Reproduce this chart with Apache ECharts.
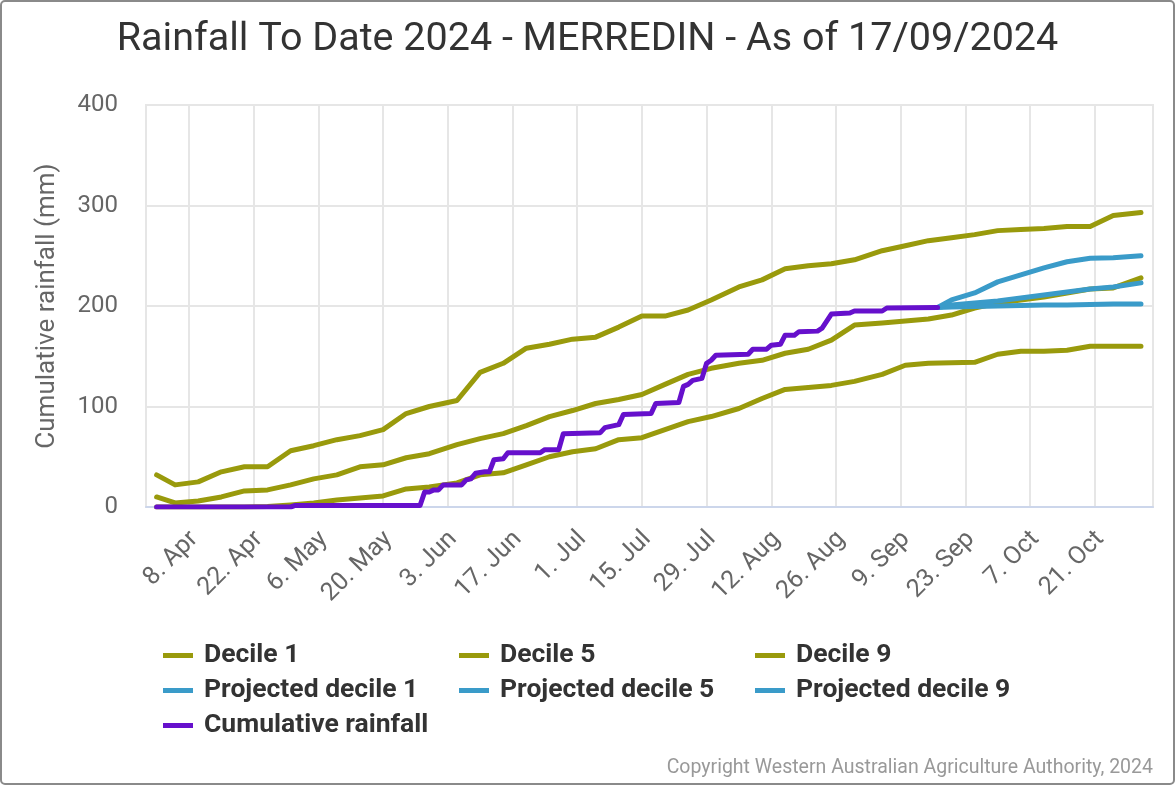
<!DOCTYPE html>
<html>
<head>
<meta charset="utf-8">
<script src="https://cdn.jsdelivr.net/npm/echarts@6/dist/echarts.min.js"></script>
<style>
html,body{margin:0;padding:0;background:#fff;}
#chart{width:1175px;height:785px;}
</style>
</head>
<body>
<div id="chart"></div>
<script>
// ---------- DATA ----------
const decileDates = [
  '2024-04-01','2024-04-05','2024-04-10','2024-04-15','2024-04-20','2024-04-25','2024-04-30',
  '2024-05-05','2024-05-10','2024-05-15','2024-05-20','2024-05-25','2024-05-30',
  '2024-06-05','2024-06-10','2024-06-15','2024-06-20','2024-06-25','2024-06-30',
  '2024-07-05','2024-07-10','2024-07-15','2024-07-20','2024-07-25','2024-07-30',
  '2024-08-05','2024-08-10','2024-08-15','2024-08-20','2024-08-25','2024-08-30',
  '2024-09-05','2024-09-10','2024-09-15','2024-09-20','2024-09-25','2024-09-30',
  '2024-10-05','2024-10-10','2024-10-15','2024-10-20','2024-10-25','2024-10-31'
];
const decile1 = [
  0, 0, 0, 0, 0, 0.5, 2,
  4, 7, 9, 11, 18, 20,
  24, 32, 34, 42, 50, 55,
  58, 67, 69, 77, 85, 90,
  98, 108, 117, 119, 121, 125,
  132, 141, 143, 143.5, 144, 152,
  155, 155, 156, 160, 160, 160
];
const decile5 = [
  10, 4, 6, 10, 16, 17, 22,
  28, 32, 40, 42, 49, 53,
  62, 68, 73, 81, 90, 96,
  103, 107, 112, 122, 132, 138,
  143, 146, 153, 157, 166, 181,
  183, 185, 187, 191, 198, 203,
  206, 209, 213, 217, 218, 228
];
const decile9 = [
  32, 22, 25, 35, 40, 40, 56,
  61, 67, 71, 77, 93, 100,
  106, 134, 143, 158, 162, 167,
  169, 179, 190, 190, 196, 206,
  219, 226, 237, 240, 242, 246,
  255, 260, 265, 268, 271, 275,
  276, 277, 279, 279, 290, 293
];

const projDates = ['2024-09-17','2024-09-20','2024-09-25','2024-09-30','2024-10-05',
  '2024-10-10','2024-10-15','2024-10-20','2024-10-25','2024-10-31'];
const projDecile1 = [198.5, 199, 199.5, 200, 200.5, 201, 201, 201.5, 202, 202];
const projDecile5 = [198.5, 201, 203, 205, 208, 211, 214, 217, 219, 223];
const projDecile9 = [198.5, 206, 213, 224, 231, 238, 244, 247.5, 248, 250];

const rainDates = [
  '2024-04-01','2024-04-30','2024-05-01','2024-05-28','2024-05-29','2024-05-30','2024-05-31',
  '2024-06-01','2024-06-02','2024-06-06','2024-06-07','2024-06-08','2024-06-09','2024-06-11',
  '2024-06-12','2024-06-13','2024-06-15','2024-06-16','2024-06-23','2024-06-24','2024-06-27',
  '2024-06-28','2024-07-06','2024-07-07','2024-07-08','2024-07-09','2024-07-10','2024-07-11',
  '2024-07-17','2024-07-18','2024-07-23','2024-07-24','2024-07-25','2024-07-26','2024-07-28',
  '2024-07-29','2024-07-30','2024-07-31','2024-08-07','2024-08-08','2024-08-11','2024-08-12',
  '2024-08-14','2024-08-15','2024-08-17','2024-08-18','2024-08-22','2024-08-23','2024-08-25',
  '2024-08-29','2024-08-30','2024-09-05','2024-09-06','2024-09-17'
];
const rainValues = [
  0, 0, 1.5, 1.5, 15, 15, 17,
  17, 22, 22, 27, 28, 33.5, 35,
  35, 47, 48, 54, 54, 57, 57,
  73, 74, 79, 80, 81, 82, 92,
  93, 103, 104, 120, 122, 126, 128,
  143, 146, 151, 152, 157, 157, 161,
  162, 171, 171, 174.5, 175, 178, 192,
  193, 195, 195, 198, 198.5
];

const tickDates = ['2024-04-08','2024-04-22','2024-05-06','2024-05-20','2024-06-03','2024-06-17',
  '2024-07-01','2024-07-15','2024-07-29','2024-08-12','2024-08-26','2024-09-09','2024-09-23',
  '2024-10-07','2024-10-21'];
const tickLabels = ['8. Apr','22. Apr','6. May','20. May','3. Jun','17. Jun','1. Jul','15. Jul',
  '29. Jul','12. Aug','26. Aug','9. Sep','23. Sep','7. Oct','21. Oct'];

// ---------- helpers ----------
const ORIGIN = Date.UTC(2024, 3, 1);
function dayOf(s) {
  const p = s.split('-').map(Number);
  return (Date.UTC(p[0], p[1] - 1, p[2]) - ORIGIN) / 86400000;
}
function pairs(dates, vals) { return dates.map((d, i) => [dayOf(d), vals[i]]); }
const tickDays = tickDates.map(dayOf);
const labelByDay = {};
tickDays.forEach((d, i) => { labelByDay[d] = tickLabels[i]; });

const OLIVE = '#999a0c', BLUE = '#3a9bc9', PURPLE = '#6610cc';
const FONT = 'Roboto';

function lineSeries(name, data, color) {
  return {
    name: name, type: 'line', data: data, showSymbol: false, symbol: 'none',
    lineStyle: { color: color, width: 5, join: 'round', cap: 'round' },
    itemStyle: { color: color },
    emphasis: { disabled: true }, animation: false
  };
}

const chart = echarts.init(document.getElementById('chart'), null, { renderer: 'canvas' });

const legendCommon = {
  orient: 'vertical', top: 642, padding: 0, itemWidth: 30, itemHeight: 5, icon: 'rect', itemGap: 8,
  selectedMode: false,
  textStyle: { fontFamily: FONT, fontSize: 26.5, fontWeight: 'bold', color: '#333', lineHeight: 26, padding: [0, 0, 0, 6] }
};

chart.setOption({
  backgroundColor: '#fff',
  animation: false,
  title: {
    text: 'Rainfall To Date 2024 - MERREDIN - As of 17/09/2024',
    left: 'center', top: 15,
    textStyle: { fontFamily: FONT, fontSize: 39.5, fontWeight: 'normal', color: '#333' }
  },
  legend: [
    Object.assign({ left: 163, data: ['Decile 1', 'Projected decile 1', 'Cumulative rainfall'] }, legendCommon),
    Object.assign({ left: 459, data: ['Decile 5', 'Projected decile 5'] }, legendCommon),
    Object.assign({ left: 755, data: ['Decile 9', 'Projected decile 9'] }, legendCommon)
  ],
  grid: { left: 146, right: 22, top: 105, bottom: 278, outerBoundsMode: 'none', containLabel: false,
    show: true, borderColor: '#e6e6e6', borderWidth: 2 },
  xAxis: {
    type: 'value', min: -2.3, max: 215.6,
    axisLine: { show: true, lineStyle: { color: '#ccd6eb', width: 2 } },
    axisTick: { show: false, customValues: tickDays },
    axisLabel: {
      customValues: tickDays, rotate: 45, margin: 16, align: 'right', verticalAlign: 'top',
      padding: [0, 5, 0, 0],
      fontFamily: FONT, fontSize: 25, color: '#666',
      formatter: v => labelByDay[v] || ''
    },
    splitLine: { show: true, lineStyle: { color: '#e6e6e6', width: 2 } }
  },
  yAxis: {
    type: 'value', min: 0, max: 400, interval: 100,
    name: 'Cumulative rainfall (mm)', nameLocation: 'middle', nameGap: 86, nameRotate: 90,
    nameTextStyle: { fontFamily: FONT, fontSize: 26, color: '#666' },
    axisLine: { show: false }, axisTick: { show: false },
    axisLabel: { margin: 28, fontFamily: FONT, fontSize: 24, color: '#666' },
    splitLine: { show: true, lineStyle: { color: '#e6e6e6', width: 2 } }
  },
  series: [
    lineSeries('Decile 1', pairs(decileDates, decile1), OLIVE),
    lineSeries('Decile 5', pairs(decileDates, decile5), OLIVE),
    lineSeries('Decile 9', pairs(decileDates, decile9), OLIVE),
    lineSeries('Projected decile 1', pairs(projDates, projDecile1), BLUE),
    lineSeries('Projected decile 5', pairs(projDates, projDecile5), BLUE),
    lineSeries('Projected decile 9', pairs(projDates, projDecile9), BLUE),
    lineSeries('Cumulative rainfall', pairs(rainDates, rainValues), PURPLE)
  ],
  graphic: [
    { type: 'rect', silent: true, z: 100,
      shape: { x: 1, y: 1, width: 1173, height: 783, r: 4 },
      style: { fill: 'none', stroke: '#8a8a8a', lineWidth: 2 } },
    { type: 'text', silent: true, right: 22, top: 758,
      style: { text: 'Copyright Western Australian Agriculture Authority, 2024',
        fontFamily: FONT, fontSize: 19.5, fill: '#999' } }
  ]
});
</script>
</body>
</html>
